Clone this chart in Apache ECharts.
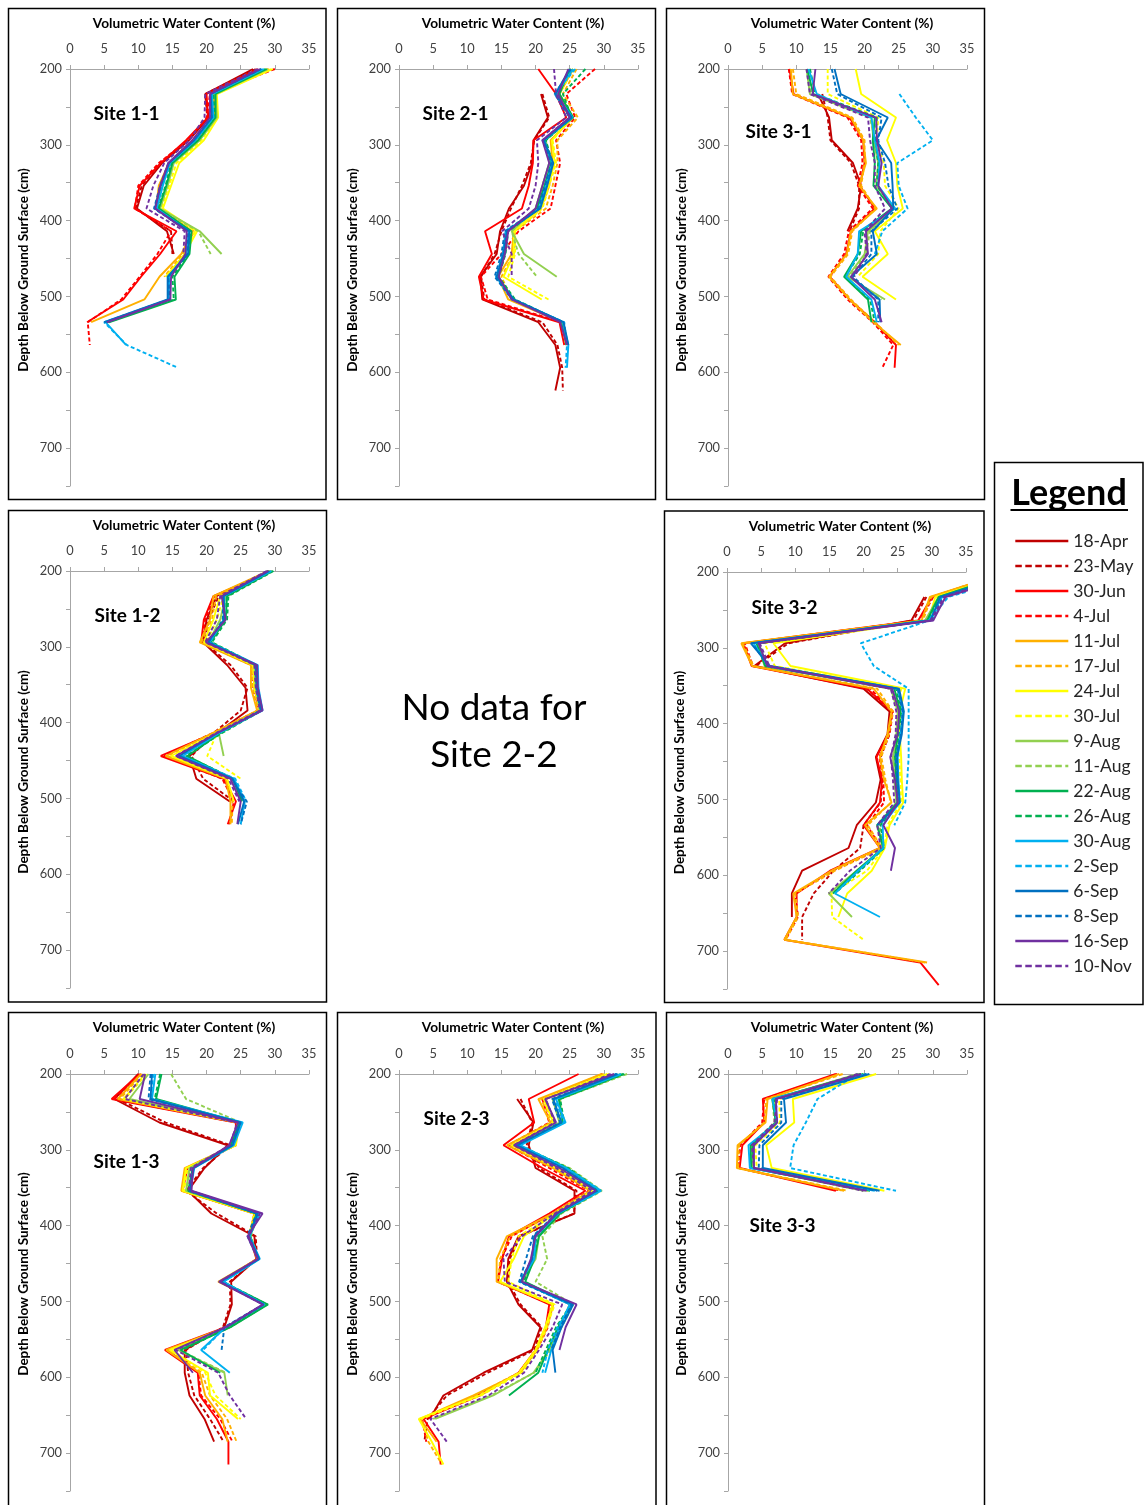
<!DOCTYPE html>
<html>
<head>
<meta charset="utf-8">
<script src="https://cdn.jsdelivr.net/npm/echarts@6/dist/echarts.min.js"></script>
<style>
  html, body { margin: 0; padding: 0; background: #ffffff; }
  #chart { width: 1145px; height: 1505px; }
</style>
</head>
<body>
<div id="chart"></div>
<script>
// ---- Survey dates (one profile per date) ----
const DATES = ['18-Apr', '23-May', '30-Jun', '4-Jul', '11-Jul', '17-Jul', '24-Jul', '30-Jul',
  '9-Aug', '11-Aug', '22-Aug', '26-Aug', '30-Aug', '2-Sep', '6-Sep', '8-Sep', '16-Sep', '10-Nov'];

// ---- Sensor depths below ground surface (cm) ----
const DEPTHS = [200, 233, 264, 294, 324, 354, 384, 414, 444, 474, 504, 534, 564, 594, 624, 655, 685, 715, 745];

// ---- Axis tick labels ----
const VWC_TICKS = [0, 5, 10, 15, 20, 25, 30, 35];
const DEPTH_TICKS = [200, 300, 400, 500, 600, 700];
const DEPTH_MAX = 750;

// ---- Volumetric water content (%) per site; one row per date, values follow DEPTHS ----
const site11 = [
  [26.8, 19.8, 20.3, 17.4, 13.5, 10.8, 9.8, 14.2, 15.2],
  [27.2, 19.8, 20.1, 17.2, 13.2, 10.5, 9.6, 14.8, 15.0],
  [27.5, 20.0, 20.2, 17.0, 13.3, 10.2, 9.4, 15.6, 13.2, 10.4, 7.8, 2.5],
  [30.0, 20.5, 20.0, 17.3, 13.0, 10.0, 9.5, 14.8, 12.8, 10.2, 7.5, 2.6, 2.9],
  [29.0, 21.0, 21.2, 18.3, 14.5, 13.0, 12.6, 18.0, 16.3, 13.1, 10.9, 3.1],
  [29.2, 21.2, 21.3, 18.6, 14.8, 13.3, 12.8, 18.2, 16.5, 13.8],
  [29.7, 21.5, 21.7, 19.6, 16.0, 14.8, 13.6, 18.6, 16.8, 14.0],
  [29.5, 21.4, 21.6, 19.2, 15.6, 14.5, 13.4, 18.3, 16.8, 14.2],
  [29.0, 21.3, 21.5, 19.0, 15.2, 14.3, 13.2, 19.0, 22.2],
  [28.8, 21.2, 21.4, 18.8, 15.0, 14.1, 13.0, 18.8, 20.6],
  [28.8, 21.3, 21.3, 18.8, 15.0, 14.1, 13.0, 17.8, 17.5, 15.3, 15.5, 5.7],
  [28.6, 21.0, 21.2, 18.6, 14.8, 14.0, 12.9, 17.6, 17.3, 15.0, 15.2, 5.5],
  [28.4, 20.8, 21.0, 18.4, 14.6, 13.6, 12.7, 17.4, 17.0, 14.5, 14.5, 5.2, 8.2],
  [28.2, 20.7, 21.0, 18.3, 14.7, 13.5, 12.6, 17.3, 17.0, 14.4, 14.4, 5.0, 8.3, 15.8],
  [28.0, 20.6, 20.8, 18.2, 14.5, 13.3, 12.4, 17.5, 17.3, 14.3, 14.3, 5.0],
  [28.0, 20.5, 20.7, 18.0, 14.4, 13.2, 12.3, 17.3, 17.2, 14.4, 14.6, 5.2],
  [27.8, 20.5, 20.5, 17.9, 14.4, 13.2, 12.5, 17.1, 16.9, 14.8, 14.7, 5.4],
  [27.5, 19.8, 19.7, 17.5, 13.8, 12.2, 11.2, 16.8, 16.6]
];

const site21 = [
  [null, 20.8, 21.8, 19.7, 19.5, 18.3, 16.1, 14.8, 14.3, 11.9, 12.2, 20.4, 22.9, 23.6, 22.9],
  [null, 21.0, 22.0, 19.8, 19.3, 18.0, 16.4, 15.0, 14.0, 12.0, 12.5, 21.0, 23.2, 23.9, 24.0],
  [20.4, 23.0, 24.5, 19.7, 19.6, 19.0, 18.0, 12.6, 13.6, 11.7, 12.4, 23.5, 24.2],
  [28.7, 24.5, 25.8, 23.0, 23.6, 22.9, 22.2, 17.5, 15.0, 12.0, 13.0, 23.8],
  [25.5, 23.5, 25.5, 22.2, 22.5, 22.0, 20.8, 16.8, 16.5, 14.5, 16.0, 23.8, 24.5],
  [26.0, 24.0, 26.2, 23.2, 23.2, 22.5, 21.5, 17.0, 16.8, 15.0, 16.5, 24.0],
  [25.3, 23.3, 25.2, 22.4, 22.8, 21.8, 20.8, 16.8, 16.8, 15.3, 20.9],
  [25.5, 23.5, 25.3, 22.5, 23.0, 22.0, 21.0, 17.0, 17.0, 16.0, 21.9],
  [25.0, 23.2, 25.0, 21.5, 22.0, 21.0, 20.0, 16.5, 18.3, 23.1],
  [25.2, 23.0, 25.0, 21.5, 22.0, 21.0, 20.0, 16.5, 17.5, 20.2],
  [25.0, 23.5, 25.5, 21.3, 22.3, 21.3, 20.2, 15.8, 15.5, 14.5, 16.8, 23.9, 24.5],
  [27.3, 24.0, 25.3, 21.5, 22.5, 21.5, 20.5, 16.0, 15.6, 14.6, 17.0, 24.0, 24.6],
  [25.5, 23.0, 25.4, 21.2, 22.5, 21.5, 20.5, 15.8, 15.3, 14.3, 16.8, 24.0, 24.8, 24.6],
  [25.8, 22.8, 25.2, 21.3, 22.4, 21.6, 20.6, 15.6, 15.2, 14.2, 16.5, 24.2, 24.6, 24.4],
  [25.0, 22.9, 25.3, 21.2, 22.6, 21.7, 20.7, 15.8, 15.3, 14.3, 16.8, 24.1, 24.8],
  [25.2, 22.8, 25.0, 21.0, 22.3, 21.4, 20.4, 15.5, 15.0, 14.0, 16.6, 24.0],
  [24.8, 23.3, 25.0, 21.0, 22.0, 21.0, 20.0, 16.0, 15.5, 14.6, 16.5, 23.6, 24.6],
  [22.7, 23.0, 24.5, 20.2, 20.4, 20.0, 19.0, 15.1, 16.5, 16.5]
];

const site31 = [
  [null, 13.2, 14.8, 15.2, 18.3, 19.5, 19.0, 17.5],
  [null, 13.8, 14.6, 15.0, 18.0, 19.2, 19.2, 17.8],
  [9.0, 9.6, 17.8, 19.8, 20.0, 19.3, 21.5, 18.0, 17.3, 14.9, 17.8, 21.5, 24.6, 24.4],
  [8.9, 9.4, 17.5, 19.5, 19.7, 19.0, 21.2, 17.7, 17.0, 14.7, 17.5, 21.2, 24.2, 22.6],
  [9.2, 9.5, 18.0, 19.8, 20.2, 19.2, 21.8, 18.0, 17.4, 14.8, 17.8, 21.3, 25.3],
  [9.5, 10.0, 18.2, 20.0, 20.0, 19.5, 21.6, 18.2, 17.6, 15.0, 18.0, 21.5, 25.0],
  [18.7, 19.5, 24.6, 23.3, 24.6, 24.8, 25.6, 21.5, 23.4, 19.7, 24.6],
  [14.6, 14.6, 22.0, 21.8, 22.8, 23.0, 25.0, 22.3, 22.0, 19.0],
  [11.5, 12.0, 21.0, 21.3, 22.0, 21.7, 24.3, 20.5, 20.0, 17.5, 23.0],
  [11.8, 12.2, 20.8, 21.5, 22.2, 22.0, 24.0, 20.8, 20.2, 17.8, 22.5],
  [11.6, 12.5, 21.5, 21.2, 21.5, 21.3, 24.0, 19.5, 19.0, 17.0, 20.5, 21.0],
  [12.0, 12.8, 21.8, 21.6, 22.0, 21.8, 24.3, 19.8, 19.3, 17.2, 20.8, 21.5],
  [11.8, 13.0, 21.0, 21.5, 22.2, 22.0, 24.5, 19.2, 19.0, 17.3, 21.0, 21.8],
  [null, 25.1, 27.5, 30.0, 24.8, 25.0, 26.3, 22.6, 21.5],
  [15.6, 16.5, 23.4, 21.7, 23.9, 24.1, 24.2, 21.2, 21.8, 18.0, 22.2, 22.3],
  [15.2, 16.0, 22.5, 22.0, 23.0, 23.5, 24.8, 21.0, 21.0, 18.3, 22.0, 22.0],
  [12.8, 12.4, 21.7, 21.8, 22.5, 22.0, 24.0, 20.2, 20.5, 18.0, 21.5, 22.5],
  [11.5, 12.0, 20.5, 20.8, 21.5, 21.5, 23.0, 20.0, 20.3, 18.5]
];

const site12 = [
  [29.0, 21.5, 20.0, 19.5, 23.0, 25.7, 26.0, 21.5, 17.5, 18.5, 23.4],
  [29.2, 21.8, 20.3, 19.7, 23.5, 26.0, 25.0, 21.0, 17.8, 19.5, 24.0],
  [29.5, 21.0, 19.6, 19.2, 26.8, 27.0, 27.7, 21.0, 13.3, 22.5, 24.3, 23.1],
  [29.3, 21.2, 19.8, 19.3, 26.5, 26.8, 27.5, 20.8, 13.8, 22.3, 24.0, 23.3],
  [29.0, 21.0, 20.5, 19.0, 26.5, 26.5, 27.4, 20.8, 14.0, 22.8, 23.5, 23.5],
  [29.2, 21.4, 20.8, 19.2, 26.7, 26.8, 27.6, 21.0, 14.3, 23.0, 23.8, 23.7],
  [29.3, 22.0, 21.0, 19.6, 26.8, 27.0, 27.8, 21.3, 14.8, 23.0, 24.0],
  [29.4, 22.5, 21.5, 20.0, 27.0, 27.0, 27.9, 21.5, 20.1, 25.0],
  [29.5, 22.8, 22.0, 20.3, 27.0, 27.2, 27.8, 21.8, 22.5],
  [29.6, 23.0, 22.3, 20.5, 27.2, 27.4, 28.0, 22.0, 17.0, 23.5],
  [29.7, 23.0, 22.8, 20.6, 27.2, 27.4, 28.0, 22.0, 17.2, 23.8, 25.2],
  [29.8, 23.2, 23.0, 20.8, 27.3, 27.5, 28.1, 22.2, 17.0, 24.0, 25.3],
  [29.5, 22.6, 22.6, 20.4, 27.5, 27.6, 28.2, 21.8, 16.5, 24.0, 25.6, 25.0],
  [29.4, 22.5, 22.5, 20.5, 27.4, 27.5, 28.1, 21.7, 16.3, 24.2, 25.8],
  [29.2, 22.5, 22.6, 20.2, 27.3, 27.4, 28.0, 21.5, 16.0, 23.8, 25.5, 24.6],
  [29.0, 22.4, 22.4, 20.3, 27.2, 27.3, 27.9, 21.4, 15.8, 23.6, 25.9, 25.0],
  [29.0, 22.2, 22.8, 19.9, 27.4, 27.5, 28.2, 21.5, 15.5, 23.5, 25.0, 24.5],
  [28.8, 22.0, 21.5, 19.8, 27.0, 27.2, 27.8, 21.3, 15.5, 23.2, 24.8]
];

// Site 3-2: shallowest readings exceed the 35 % axis limit and run off the plot edge
const site32 = [
  [null, 28.9, 27.0, 8.5, 4.0, 20.0, 23.8, 23.5, 21.8, 22.5, 21.8, 19.0, 17.8, 11.0, 9.5, 9.5],
  [null, 29.2, 27.3, 9.0, 4.2, 20.5, 24.0, 23.8, 22.5, 22.8, 22.5, 20.0, 19.5, 15.6, 12.7, 11.0, 11.0],
  [41.0, 30.0, 28.0, 2.4, 3.6, 20.5, 24.2, 23.6, 21.9, 22.7, 22.4, 20.0, 22.4, 15.1, 10.2, 10.2, 8.4, 28.3, 31.0],
  [41.0, 30.2, 28.3, 2.6, 3.8, 21.0, 24.3, 23.8, 22.3, 22.9, 23.0, 20.5, 22.6, 15.5, 10.0, 10.4, 8.6],
  [41.0, 29.7, 28.5, 2.1, 3.7, 21.5, 24.1, 23.5, 22.4, 23.0, 24.1, 20.2, 22.4, 15.3, 9.7, 10.2, 8.4, 29.3],
  [41.0, 29.9, 28.7, 2.3, 3.9, 22.0, 24.3, 23.7, 22.6, 23.2, 24.0, 20.6, 22.7, 15.8, 10.0, 10.4, 8.6, 29.0],
  [42.0, 30.5, 29.5, 6.8, 9.3, 26.1, 25.3, 25.3, 25.5, 25.6, 25.8, 23.8, 23.1, 21.2, 17.6, 16.3],
  [42.0, 30.8, 29.3, 5.5, 7.0, 25.5, 25.0, 25.0, 25.2, 25.4, 25.5, 23.5, 23.0, 20.5, 15.3, 15.4, 20.0],
  [42.0, 31.0, 29.0, 4.5, 5.5, 24.0, 25.0, 24.8, 24.3, 24.5, 24.8, 22.0, 22.8, 19.0, 14.9, 18.3],
  [42.0, 31.2, 29.2, 4.7, 5.8, 24.2, 25.2, 25.0, 24.5, 24.6, 24.9, 22.3, 23.0, 19.3, 15.0],
  [42.0, 31.0, 29.3, 4.3, 5.6, 24.5, 25.4, 25.0, 24.6, 24.8, 25.0, 22.0, 22.9, 19.0, 15.5],
  [42.0, 31.3, 29.5, 4.6, 5.9, 24.8, 25.5, 25.2, 24.8, 25.0, 25.2, 22.5, 23.0, 19.5, 15.8],
  [43.0, 31.5, 29.6, 3.9, 6.0, 25.0, 25.8, 25.4, 25.0, 25.1, 25.3, 22.8, 22.9, 19.2, 15.8, 22.4],
  [45.0, 32.4, 29.6, 19.6, 21.5, 26.6, 26.6, 26.6, 26.6, 26.4, 26.1, 24.5],
  [43.0, 31.2, 29.8, 3.5, 6.3, 25.2, 25.9, 25.6, 24.9, 25.0, 25.3, 22.0],
  [43.0, 31.6, 30.0, 3.7, 6.0, 25.0, 25.7, 25.5, 24.7, 24.9, 25.0, 22.3],
  [44.0, 32.0, 30.2, 4.6, 5.9, 24.2, 25.2, 25.0, 23.9, 24.6, 25.0, 22.9, 24.6, 24.0],
  [43.0, 31.8, 29.8, 4.8, 6.2, 24.0, 24.8, 24.7, 24.0, 24.3, 24.5, 22.0, 22.5, 18.0, 14.9]
];

const site13 = [
  [10.0, 6.5, 13.1, 23.1, 19.7, 17.3, 20.7, 27.0, 27.3, 23.6, 23.7, 22.6, 16.8, 16.8, 17.5, 19.7, 21.1],
  [10.2, 7.0, 14.0, 23.5, 19.5, 17.0, 21.5, 27.2, 27.4, 23.4, 23.5, 22.4, 17.0, 17.3, 18.2, 20.5, 22.5],
  [10.2, 6.1, 24.3, 24.2, 17.2, 16.5, 27.0, 26.3, 27.3, 22.2, 28.5, 22.8, 13.9, 18.7, 19.0, 21.5, 23.2, 23.2],
  [10.4, 6.5, 24.5, 24.3, 17.0, 16.4, 27.2, 26.2, 27.5, 22.0, 28.5, 23.0, 14.2, 18.8, 19.2, 22.0, 23.8],
  [10.4, 7.0, 24.5, 24.0, 16.8, 16.3, 27.0, 26.2, 27.4, 21.7, 28.6, 23.0, 14.1, 19.0, 19.8, 22.3, 23.1],
  [10.6, 7.3, 24.6, 24.1, 17.0, 16.4, 27.1, 26.3, 27.5, 21.8, 28.6, 23.1, 14.4, 19.3, 20.5, 23.0, 24.4],
  [11.0, 7.8, 24.8, 24.3, 17.0, 16.5, 27.2, 26.3, 27.6, 21.9, 28.7, 23.2, 14.6, 20.2, 20.5, 24.6],
  [11.2, 8.0, 24.7, 24.2, 17.2, 16.7, 27.0, 26.2, 27.5, 22.0, 28.7, 23.3, 14.8, 19.8, 21.3, 25.0],
  [11.5, 8.7, 24.9, 23.6, 17.5, 17.0, 27.4, 26.4, 27.6, 22.2, 28.8, 23.4, 15.8, 22.6, 23.1],
  [14.8, 17.0, 25.0, 23.8, 17.6, 17.0, 27.5, 26.5, 27.6, 22.2, 28.8, 23.5, 16.0, 22.8],
  [13.4, 12.6, 24.9, 23.5, 18.0, 17.3, 27.3, 26.3, 27.6, 22.3, 29.0, 23.5, 16.2, 22.0],
  [13.2, 12.4, 24.8, 23.6, 18.0, 17.4, 27.4, 26.4, 27.6, 22.4, 28.9, 23.3, 16.5],
  [12.5, 12.0, 25.3, 24.0, 18.2, 17.6, 27.8, 26.3, 27.8, 22.5, 28.5, 22.8, 19.2, 23.4],
  [12.2, 11.8, 25.1, 23.9, 18.0, 17.5, 27.5, 26.2, 27.7, 22.4, 28.3, 22.7, 19.5],
  [12.0, 11.8, 25.0, 23.8, 18.1, 17.6, 27.5, 26.2, 27.7, 22.0, 28.4, 22.9],
  [11.8, 11.5, 24.8, 23.7, 18.0, 17.5, 27.3, 26.0, 27.5, 22.0, 28.3, 22.6, 22.2],
  [11.0, 10.2, 24.6, 23.3, 18.0, 17.8, 28.2, 26.0, 27.5, 21.8, 28.2, 22.8, 15.3, 18.0],
  [10.8, 8.0, 24.5, 23.4, 17.7, 17.4, 27.8, 26.2, 27.5, 22.0, 28.3, 22.8, 15.5, 21.7, 23.4, 25.8]
];

const site23 = [
  [null, 17.3, 19.7, 19.0, 20.0, 25.7, 25.7, 17.5, 16.0, 15.8, 17.5, 20.7, 19.5, 12.4, 6.5, 4.5],
  [null, 17.8, 19.5, 18.7, 20.5, 26.0, 25.6, 17.8, 16.2, 16.0, 17.8, 20.9, 19.8, 13.0, 7.0, 4.2, 3.7],
  [26.3, 19.0, 19.8, 15.3, 21.0, 27.3, 22.0, 16.1, 15.1, 14.5, 22.0, 21.5, 20.0, 17.5, 11.9, 3.6, 5.8, 6.1],
  [29.8, 21.0, 22.0, 16.0, 22.0, 27.8, 22.5, 16.5, 15.0, 14.4, 22.3, 21.8, 20.2, 17.6, 11.5, 3.4, 4.0],
  [29.7, 20.4, 22.2, 15.8, 22.5, 28.0, 22.5, 15.8, 14.3, 14.3, 22.6, 21.7, 20.2, 17.8, 10.9, 3.1, 5.5],
  [30.0, 20.8, 22.5, 16.2, 22.8, 28.2, 22.8, 16.3, 14.8, 14.6, 22.5, 21.5, 20.0, 17.5, 11.2, 3.3, 4.3, 6.3],
  [30.5, 21.2, 22.6, 16.5, 23.0, 28.3, 22.8, 18.3, 16.8, 14.8, 22.5, 21.4, 20.0, 17.6, 11.8, 2.9, 4.8, 6.5],
  [30.8, 21.5, 22.8, 16.7, 23.3, 28.5, 23.0, 17.5, 16.5, 16.0, 22.8, 21.6, 20.3, 18.0, 12.0, 3.2],
  [32.5, 22.5, 23.5, 17.0, 24.5, 29.5, 23.5, 20.5, 20.0, 18.0, 25.0, 23.5, 22.0, 19.7, 13.8, 5.3],
  [33.4, 23.6, 23.8, 17.2, 25.0, 29.7, 23.8, 21.0, 21.7, 20.0, 25.5, 23.8, 22.2, 19.8, 13.5, 5.0],
  [32.8, 23.4, 24.0, 17.5, 24.6, 29.3, 23.6, 20.5, 19.8, 18.5, 25.3, 23.3, 21.8, 20.4, 16.1],
  [33.0, 23.6, 24.2, 17.6, 24.8, 29.5, 23.5, 20.2, 19.5, 18.3, 25.2, 23.0, 21.5, 20.0],
  [32.5, 23.0, 24.4, 17.8, 24.5, 29.6, 23.3, 20.0, 19.8, 17.8, 25.0, 23.5, 22.3, 21.4],
  [32.0, 22.8, 24.2, 17.5, 24.3, 29.3, 23.0, 19.8, 19.5, 17.6, 25.2, 23.2, 21.8, 21.0],
  [32.0, 22.6, 23.8, 17.3, 24.0, 29.0, 23.2, 19.8, 19.5, 17.8, 25.5, 23.8, 22.5, 22.9],
  [31.8, 22.4, 23.6, 17.2, 23.8, 28.8, 23.0, 19.6, 18.6, 17.6, 25.3, 23.6, 22.3],
  [31.5, 21.4, 23.0, 16.8, 23.5, 28.8, 23.0, 20.0, 19.3, 18.0, 26.0, 24.4, 23.5],
  [31.0, 21.5, 22.8, 16.8, 23.0, 28.3, 22.8, 18.0, 15.3, 15.5, 23.9, 22.5, 20.5, 18.3, 13.1, 4.6, 7.0]
];

const site33 = [
  null,
  null,
  [15.8, 5.1, 5.3, 2.1, 1.7, 15.8],
  [16.0, 5.3, 5.0, 1.8, 1.5, 16.5],
  [16.3, 5.8, 5.5, 1.4, 1.3, 17.0],
  [16.8, 5.6, 5.3, 1.6, 1.5, 17.5],
  [21.7, 9.5, 9.7, 5.6, 6.4, 22.9],
  [20.0, 7.5, 7.6, 4.0, 4.2, 20.5],
  [19.0, 6.8, 7.0, 3.5, 3.6, 20.0],
  [19.3, 6.5, 6.8, 3.3, 3.5, 19.8],
  [19.5, 6.5, 7.0, 3.3, 3.4, 20.8],
  [19.8, 6.8, 7.2, 3.6, 3.8, 21.0],
  [20.2, 6.5, 7.2, 3.0, 3.2, 21.5],
  [19.0, 13.1, 11.4, 9.6, 9.1, 24.6],
  [20.7, 8.2, 8.5, 5.1, 5.1, 22.2],
  [20.3, 7.8, 7.8, 4.6, 4.5, 21.8],
  [19.5, 7.0, 7.2, 3.8, 3.8, 20.3],
  [19.0, 7.2, 6.8, 3.5, 3.8, 19.8]
];

// ---- Line styling per date ----
const COLORS = ['#C00000', '#C00000', '#FF0000', '#FF0000', '#FFB000', '#FFB000', '#FFFF00', '#FFFF00',
  '#92D050', '#92D050', '#00B050', '#00B050', '#00B0F0', '#00B0F0', '#0070C0', '#0070C0', '#7030A0', '#7030A0'];
const DASHED = DATES.map((d, i) => i % 2 === 1);

// ---- Panel layout: frame box, plot origin, and site-label offset inside the frame ----
const PANELS = [
  { title: 'Site 1-1', values: site11, box: [8.5, 8.5, 317.5, 491], plot: [70, 69], label: [85, 105] },
  { title: 'Site 2-1', values: site21, box: [337.5, 8.5, 318, 491], plot: [399, 69], label: [85, 105] },
  { title: 'Site 3-1', values: site31, box: [666.5, 8.5, 318, 491], plot: [728, 69], label: [79, 123] },
  { title: 'Site 1-2', values: site12, box: [8.5, 510.5, 318, 491.5], plot: [70, 571], label: [86, 105] },
  { title: 'Site 3-2', values: site32, box: [664.5, 511, 319.5, 491.5], plot: [727, 572], label: [87, 97] },
  { title: 'Site 1-3', values: site13, box: [8.5, 1012.5, 318, 520], plot: [70, 1074], label: [85, 149] },
  { title: 'Site 2-3', values: site23, box: [337.5, 1012.5, 318.5, 520], plot: [399, 1074], label: [86, 106] },
  { title: 'Site 3-3', values: site33, box: [666.5, 1012.5, 318, 520], plot: [728, 1074], label: [83, 213] }
];
const PLOT_W = 239, PLOT_H = 417;

const FONT = 'Lato, "Open Sans", "Liberation Sans", sans-serif';
const AXIS_GREY = '#A6A6A6';

const grids = [], xAxes = [], yAxes = [], series = [], graphics = [];

PANELS.forEach((p, i) => {
  grids.push({ left: p.plot[0], top: p.plot[1], width: PLOT_W, height: PLOT_H, containLabel: false });

  xAxes.push({
    gridIndex: i, type: 'value', position: 'top',
    min: VWC_TICKS[0], max: VWC_TICKS[VWC_TICKS.length - 1], interval: VWC_TICKS[1] - VWC_TICKS[0],
    axisLine: { show: true, lineStyle: { color: AXIS_GREY, width: 1 } },
    axisTick: { show: true, inside: false, length: 4, lineStyle: { color: AXIS_GREY } },
    axisLabel: { color: '#404040', fontFamily: FONT, fontSize: 12.8, margin: 14 },
    splitLine: { show: false }
  });

  yAxes.push({
    gridIndex: i, type: 'value', inverse: true,
    min: DEPTH_TICKS[0], max: DEPTH_MAX, interval: (DEPTH_TICKS[1] - DEPTH_TICKS[0]) / 2,
    axisLine: { show: true, lineStyle: { color: AXIS_GREY, width: 1 } },
    axisTick: { show: true, inside: false, length: 4, lineStyle: { color: AXIS_GREY } },
    axisLabel: {
      color: '#404040', fontFamily: FONT, fontSize: 12.8, margin: 8,
      formatter: v => (DEPTH_TICKS.indexOf(v) >= 0 ? String(v) : '')
    },
    splitLine: { show: false }
  });

  p.values.forEach((row, d) => {
    if (!row) return;
    const pts = [];
    row.forEach((v, k) => { if (v !== null && v !== undefined) pts.push([v, DEPTHS[k]]); });
    series.push({
      type: 'line', name: DATES[d], xAxisIndex: i, yAxisIndex: i,
      data: pts, symbol: 'none', showSymbol: false, clip: true, silent: true,
      lineStyle: { color: COLORS[d], width: 1.9, type: DASHED[d] ? [4, 2.5] : 'solid' },
      itemStyle: { color: COLORS[d] },
      emphasis: { disabled: true }
    });
  });

  const [bx, by, bw, bh] = p.box;
  // frame
  graphics.push({
    type: 'rect', silent: true, z: 10,
    shape: { x: bx, y: by, width: bw, height: bh },
    style: { fill: 'none', stroke: '#000000', lineWidth: 1.5 }
  });
  // x-axis title
  graphics.push({
    type: 'text', silent: true, z: 10, x: bx + 175.5, y: by + 15.5,
    style: { text: 'Volumetric Water Content (%)', fill: '#000000',
      font: 'bold 13.7px ' + FONT, align: 'center', verticalAlign: 'middle',
      textAlign: 'center', textVerticalAlign: 'middle' }
  });
  // y-axis title
  graphics.push({
    type: 'text', silent: true, z: 10, x: bx + 15, y: by + 261.5, rotation: Math.PI / 2,
    style: { text: 'Depth Below Ground Surface (cm)', fill: '#000000',
      font: 'bold 13.5px ' + FONT, align: 'center', verticalAlign: 'middle',
      textAlign: 'center', textVerticalAlign: 'middle' }
  });
  // site label
  graphics.push({
    type: 'text', silent: true, z: 10, x: bx + p.label[0], y: by + p.label[1],
    style: { text: p.title, fill: '#000000', font: 'bold 19px ' + FONT,
      align: 'left', verticalAlign: 'middle', textAlign: 'left', textVerticalAlign: 'middle' }
  });
});

// Site 2-2 has no profile
graphics.push({
  type: 'text', silent: true, x: 494, y: 708,
  style: { text: 'No data for', fill: '#000000', font: '37px ' + FONT,
    align: 'center', verticalAlign: 'middle', textAlign: 'center', textVerticalAlign: 'middle' }
});
graphics.push({
  type: 'text', silent: true, x: 494, y: 755,
  style: { text: 'Site 2-2', fill: '#000000', font: '37px ' + FONT,
    align: 'center', verticalAlign: 'middle', textAlign: 'center', textVerticalAlign: 'middle' }
});

// Legend frame and heading
graphics.push({
  type: 'rect', silent: true,
  shape: { x: 994.5, y: 462.5, width: 148.5, height: 542 },
  style: { fill: 'none', stroke: '#000000', lineWidth: 1.5 }
});
graphics.push({
  type: 'text', silent: true, x: 1069, y: 493,
  style: { text: 'Legend', fill: '#000000', font: 'bold 36px ' + FONT,
    align: 'center', verticalAlign: 'middle', textAlign: 'center', textVerticalAlign: 'middle' }
});
graphics.push({
  type: 'line', silent: true,
  shape: { x1: 1010.5, y1: 510, x2: 1128, y2: 510 },
  style: { stroke: '#000000', lineWidth: 2 }
});

const option = {
  animation: false,
  backgroundColor: '#ffffff',
  grid: grids,
  xAxis: xAxes,
  yAxis: yAxes,
  series: series,
  graphic: graphics,
  legend: {
    orient: 'vertical', left: 1014, top: 532, padding: 0,
    itemWidth: 53, itemHeight: 14, itemGap: 7.0,
    selectedMode: false,
    itemStyle: { opacity: 0, borderWidth: 0 },
    textStyle: { fontFamily: FONT, fontSize: 17.5, color: '#262626' },
    data: DATES.map((d, i) => ({
      name: d,
      itemStyle: { opacity: 0, borderWidth: 0 },
      lineStyle: { width: 2.6, type: DASHED[i] ? [6.5, 3.5] : 'solid' }
    }))
  }
};

const chart = echarts.init(document.getElementById('chart'), null, { renderer: 'canvas' });
chart.setOption(option);
</script>
</body>
</html>
